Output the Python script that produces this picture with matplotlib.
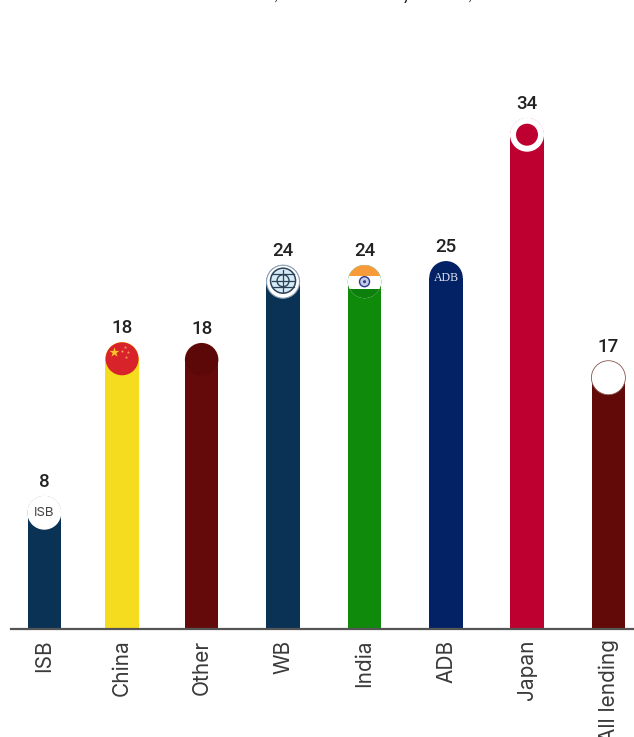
import matplotlib
matplotlib.use("Agg")
import matplotlib.pyplot as plt
from matplotlib.patches import Ellipse

categories = ["ISB", "China", "Other", "WB", "India", "ADB", "Japan", "All lending"]
# printed labels
values = [8, 18, 18, 24, 24, 25, 34, 17]
# height of each rounded bar as drawn (not quite the printed value)
bar_tops = [8.87, 19.13, 19.07, 24.27, 24.27, 24.53, 34.07, 17.87]
# bars are not evenly spaced in the original, the left ones sit closer together
slots = [0, 0.955, 1.933, 2.933, 3.934, 4.935, 5.93, 6.93]
colors = ["#0a3254", "#f6dc1e", "#640a0a", "#0a3254", "#0f8a0a", "#032266", "#be0030", "#620a07"]

W, H = 634, 737
PX_X = 81.4  # pixels per slot
PX_Y = 15.0  # pixels per value unit
BASE = 629
LEFT = 11
BAR_W = 33.5

fig = plt.figure(figsize=(W / 100, H / 100), dpi=100)
ax = fig.add_axes([LEFT / W, (H - BASE) / H, (W - LEFT) / W, BASE / H])
ax.set_xlim((LEFT - 44.3) / PX_X, (W - 44.3) / PX_X)
ax.set_ylim(0, BASE / PX_Y)
ax.patch.set_alpha(0)
for s in ["top", "left", "right"]:
    ax.spines[s].set_visible(False)
ax.spines["bottom"].set_color("#555555")
ax.spines["bottom"].set_linewidth(1.6)
ax.set_yticks([])
ax.set_xticks(slots)
ax.set_xticklabels(categories, rotation=90, fontsize=15, family="Inter", color="#3a3a3a", va="top", ha="center")
ax.tick_params(axis="x", length=0, pad=7.5)


def disc(x, y, d, **kw):
    # d in pixels, offsets are handled by the caller
    e = Ellipse((x, y), d / PX_X, d / PX_Y, **kw)
    ax.add_patch(e)
    return e


R = BAR_W / 2 / PX_Y
for x, top, c in zip(slots, bar_tops, colors):
    ax.bar(x, top - R, width=BAR_W / PX_X, color=c, zorder=2)
    disc(x, top - R, BAR_W, facecolor=c, edgecolor="none", zorder=2)

for x, top, v in zip(slots, bar_tops, values):
    ax.text(x, top + 0.95, str(v), ha="center", va="center", fontsize=13.5, family="Roboto",
            fontweight="medium", color="#222222")

# ISB badge
x, y = slots[0], bar_tops[0] - R
disc(x, y, 34, facecolor="white", edgecolor="none", zorder=3)
ax.text(x, y, "ISB", ha="center", va="center", fontsize=9.5, family="Inter", color="#444444", zorder=4)

# China flag
x, y = slots[1], bar_tops[1] - R
disc(x, y, 33, facecolor="#d8232a", edgecolor="none", zorder=3)
ax.scatter(x - 8 / PX_X, y + 7 / PX_Y, marker="*", s=55, color="#f7c52b", linewidths=0, zorder=4)
for ox, oy in [(3, 12), (6, 7), (4, 2), (0, 8)]:
    ax.scatter(x + ox / PX_X, y + oy / PX_Y, marker="*", s=6, color="#f3a06a", linewidths=0, zorder=4)

# Other, slightly darker cap
x, y = slots[2], bar_tops[2] - R
disc(x, y, 32, facecolor="#5c0808", edgecolor="none", zorder=3)

# WB globe
x, y = slots[3], bar_tops[3] - R
disc(x, y, 33, facecolor="white", edgecolor="#8fa3b8", linewidth=0.8, zorder=3)
disc(x, y + 1 / PX_Y, 25, facecolor="#d5ecf7", edgecolor="#2c4257", linewidth=1.1, zorder=4)
disc(x, y + 1 / PX_Y, 12, facecolor="none", edgecolor="#2c4257", linewidth=1, zorder=5)
for oy in [-6, 0, 7]:
    ax.plot([x - 11 / PX_X, x + 11 / PX_X], [y + (1 + oy) / PX_Y] * 2, color="#2c4257", lw=0.9, zorder=5)
ax.plot([x, x], [y - 10 / PX_Y, y + 12 / PX_Y], color="#2c4257", lw=0.9, zorder=5)

# India flag, three bands clipped to a disc
x, y = slots[4], bar_tops[4] - R
clip = disc(x, y, 33, facecolor="white", edgecolor="none", zorder=3)
bands = [(-16.5, 9.5, "#0d7f0c"), (-7, 13, "white"), (6, 10.5, "#f79a3a")]
for bot, h, c in bands:
    b = ax.bar(x, h / PX_Y, bottom=y + bot / PX_Y, width=BAR_W / PX_X, color=c, zorder=4)
    b[0].set_clip_path(clip)
disc(x, y, 10, facecolor="#c5cbe6", edgecolor="#2b3a8c", linewidth=1, zorder=5)
disc(x, y, 3, facecolor="#2b3a8c", edgecolor="none", zorder=6)

# ADB logo
x, y = slots[5], bar_tops[5] - R
ax.text(x, y, "ADB", ha="center", va="center", fontsize=8.5, family="Liberation Serif", color="#dfe4f2", zorder=4)

# Japan flag
x, y = slots[6], bar_tops[6] - R
disc(x, y, 34, facecolor="white", edgecolor="none", zorder=3)
disc(x, y, 22, facecolor="#be0030", edgecolor="none", zorder=4)

# All lending, blank white badge
x, y = slots[7], bar_tops[7] - R
disc(x, y, 34, facecolor="white", edgecolor="#8a5a55", linewidth=0.6, zorder=3)

# bits of the cropped title that still show at the very top
for px, s in [(276, ","), (406, "y"), (470, ",")]:
    fig.text(px / W, 1.0, s, ha="center", va="baseline", fontsize=13, family="Lato", color="#222222")

fig.savefig("out.png", dpi=100)
